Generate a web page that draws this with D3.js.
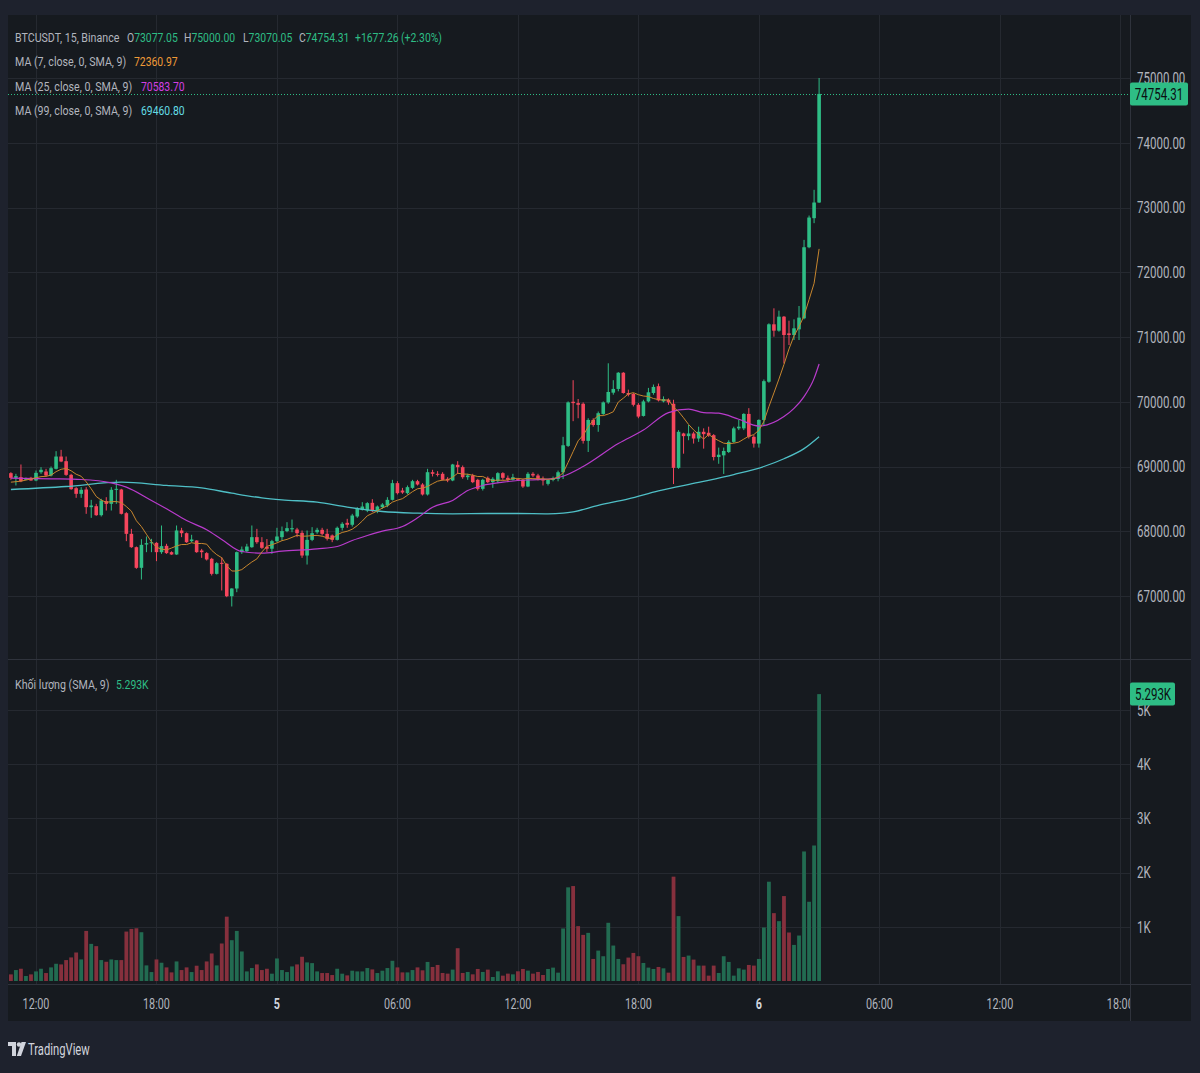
<!DOCTYPE html>
<html>
<head>
<meta charset="utf-8">
<script src="https://cdn.jsdelivr.net/npm/d3@7"></script>
<style>
  html, body { margin: 0; padding: 0; background: #1e222d; }
  svg { display: block; font-family: Roboto, "Noto Sans", sans-serif; }
</style>
</head>
<body>
<script>
// 15 minute bars, first one at 10:45 on the 4th
const firstBar = Date.UTC(2024, 10, 4, 10, 45);
const barMs = 15 * 60 * 1000;

const opens = [68897, 68825, 68835, 68794, 68825,
  68784, 68912, 68923, 68861, 68964, 69154, 69082, 68871, 68665, 68578,
  68645, 68372, 68387, 68248, 68465, 68423, 68640, 68645, 68279, 67960,
  67754, 67435, 67795, 67816, 67821, 67677, 67775, 67677, 67641, 68012,
  67970, 67847, 67857, 67703, 67662, 67574, 67342, 67512, 67497, 66997,
  67116, 67677, 67692, 67754, 67909, 67831, 67760, 67730, 67847, 67909,
  68002, 68030, 68027, 67975, 67625, 67867, 67985, 68022, 67960, 67935,
  67867, 68053, 68130, 68100, 68228, 68330, 68320, 68439, 68310, 68372,
  68398, 68485, 68743, 68629, 68588, 68670, 68773, 68722, 68568, 68912,
  68887, 68887, 68810, 68784, 69026, 68990, 68835, 68861, 68794, 68655,
  68825, 68758, 68773, 68897, 68825, 68794, 68805, 68794, 68691, 68887,
  68861, 68810, 68732, 68792, 68807, 68911, 69318, 70000, 69979, 69969,
  69396, 69719, 69641, 69812, 69990, 70140, 70198, 70448, 70135, 70120,
  69953, 69781, 70005, 70135, 70240, 70005, 70031, 69969, 68979, 69510,
  69469, 69510, 69432, 69536, 69521, 69484, 69146, 69172, 69224, 69380,
  69589, 69589, 69812, 69458, 69354, 69719, 70309, 71196, 71098, 71314,
  71056, 71031, 71118, 71288, 72386, 72835, 73077.05];

const highs = [68912, 68887, 69031, 68830, 68840,
  68938, 68990, 68964, 69000, 69237, 69257, 69154, 68887, 68681, 68681,
  68681, 68485, 68423, 68501, 68526, 68681, 68794, 68655, 68295, 68037,
  67764, 67878, 67919, 67883, 67831, 68089, 67806, 67690, 68089, 68053,
  67981, 67945, 67860, 67728, 67677, 67589, 67523, 67600, 67507, 67120,
  67687, 67764, 67806, 68089, 68037, 67909, 67880, 67867, 68053, 68073,
  68140, 68181, 68053, 68012, 68012, 68063, 68053, 68053, 68037, 67950,
  68073, 68140, 68192, 68269, 68372, 68449, 68449, 68495, 68398, 68434,
  68526, 68794, 68773, 68670, 68707, 68794, 68794, 68743, 68964, 68949,
  68928, 68912, 68835, 69041, 69082, 69015, 68887, 68887, 68810, 68810,
  68846, 68835, 68912, 68912, 68861, 68887, 68815, 68810, 68912, 68912,
  68887, 68846, 68800, 68844, 68937, 69458, 70005, 70333, 70042, 69990,
  69745, 69745, 69849, 70005, 70594, 70333, 70458, 70458, 70187, 70135,
  69979, 70031, 70214, 70266, 70281, 70083, 70050, 70031, 69562, 69521,
  69641, 69536, 69615, 69589, 69615, 69500, 69292, 69292, 69406, 69615,
  69719, 69823, 69901, 69484, 69729, 70344, 71211, 71443, 71407, 71324,
  71252, 71273, 71479, 72500, 72876, 73273, 75000];

const lows = [68794, 68707, 68758, 68790, 68780,
  68773, 68887, 68846, 68846, 68954, 69067, 68856, 68640, 68516, 68516,
  68269, 68207, 68238, 68228, 68320, 68320, 68423, 68259, 67847, 67744,
  67420, 67255, 67677, 67677, 67538, 67651, 67651, 67636, 67636, 67909,
  67821, 67831, 67667, 67589, 67548, 67317, 67332, 67085, 66982, 66838,
  67059, 67651, 67677, 67744, 67806, 67728, 67680, 67651, 67831, 67857,
  67985, 67985, 67909, 67589, 67486, 67847, 67960, 67935, 67857, 67831,
  67857, 68012, 68053, 68073, 68207, 68320, 68295, 68295, 68279, 68346,
  68372, 68475, 68568, 68578, 68568, 68655, 68707, 68552, 68552, 68846,
  68846, 68784, 68758, 68773, 68887, 68810, 68794, 68743, 68629, 68629,
  68743, 68670, 68743, 68794, 68758, 68784, 68780, 68670, 68681, 68835,
  68784, 68707, 68707, 68771, 68771, 68807, 69302, 69700, 69745, 69354,
  69224, 69615, 69536, 69797, 69969, 70109, 70161, 70125, 70083, 69927,
  69745, 69771, 69990, 70109, 70005, 69990, 69953, 68729, 68964, 69198,
  69406, 69354, 69380, 69276, 69458, 69094, 69042, 68885, 69208, 69365,
  69562, 69562, 69432, 69292, 69292, 69625, 70293, 71005, 71082, 70592,
  70876, 70953, 70953, 71273, 72371, 72758, 73070.05];

const closes = [68825, 68851, 68773, 68820, 68784,
  68902, 68949, 68861, 68974, 69154, 69077, 68871, 68650, 68578, 68640,
  68372, 68398, 68248, 68475, 68423, 68640, 68655, 68269, 67960, 67754,
  67435, 67790, 67816, 67831, 67677, 67770, 67662, 67641, 68012, 67970,
  67831, 67873, 67677, 67677, 67564, 67342, 67507, 67497, 66997, 67116,
  67677, 67718, 67764, 67909, 67831, 67744, 67730, 67847, 67919, 68002,
  68048, 68048, 67970, 67625, 67867, 67970, 68022, 67960, 67883, 67867,
  68053, 68115, 68100, 68243, 68346, 68382, 68434, 68310, 68382, 68413,
  68485, 68743, 68588, 68598, 68681, 68773, 68722, 68568, 68912, 68887,
  68871, 68794, 68784, 69031, 68990, 68835, 68861, 68758, 68655, 68794,
  68758, 68810, 68897, 68825, 68794, 68835, 68794, 68691, 68887, 68861,
  68810, 68784, 68794, 68823, 68911, 69328, 69990, 69979, 69953, 69396,
  69719, 69641, 69823, 69990, 70151, 70198, 70448, 70135, 70109, 69953,
  69771, 70005, 70146, 70229, 70021, 70042, 69990, 68979, 69536, 69469,
  69510, 69432, 69536, 69500, 69484, 69146, 69182, 69240, 69380, 69589,
  69615, 69812, 69458, 69354, 69719, 70318, 71196, 71098, 71314, 71031,
  71031, 71134.43, 71299, 72386, 72845, 73077.05, 74754.31];

const volumes = [122, 202, 226, 92, 122,
  177, 226, 147, 251, 318, 306, 386, 435, 526, 398,
  924, 685, 643, 386, 355, 398, 386, 386, 912, 961,
  973, 900, 288, 165, 398, 337, 251, 159, 361, 202,
  251, 165, 282, 202, 361, 508, 288, 692, 1187, 753,
  924, 545, 177, 239, 306, 202, 226, 135, 416, 202,
  165, 269, 306, 447, 343, 330, 177, 147, 147, 110,
  226, 135, 104, 190, 177, 177, 239, 214, 147, 190,
  239, 373, 251, 159, 159, 202, 251, 197, 352, 259,
  296, 148, 136, 210, 605, 148, 167, 123, 222, 167,
  210, 74, 179, 99, 136, 123, 179, 222, 191, 136,
  167, 111, 222, 247, 154, 969, 1728, 1752, 1012, 851,
  888, 407, 561, 457, 1074, 654, 407, 309, 432, 518,
  457, 333, 247, 222, 259, 234, 154, 1925, 1197, 444,
  469, 395, 284, 284, 99, 284, 148, 457, 352, 99,
  234, 210, 296, 284, 407, 987, 1832, 1252, 1104, 1567,
  895, 666, 839, 2390, 1462, 2500, 5293];

// moving averages (bar position, value)
const ma7HeadPos = [0, 2];
const ma7HeadVal = [68758, 68773];
const ma25Pos = [0, 8, 14, 20, 23, 28, 31, 35, 39, 42, 46, 50, 54, 61, 65, 68, 71, 74, 78, 81,
  84, 88, 91, 94, 98, 101, 104, 107, 110, 114, 121, 126, 131, 135, 138, 141, 145, 149, 154, 156,
  158, 160, 161];
const ma25Val = [68820, 68810, 68799, 68748, 68681, 68475, 68346, 68166, 68022, 67873, 67687, 67662,
  67692, 67728, 67764, 67857, 67934, 68001, 68073, 68207, 68372, 68475, 68629, 68707, 68758, 68784,
  68794, 68804, 68850, 69000, 69354, 69562, 69833, 69885, 69833, 69823, 69729, 69625, 69771, 69897,
  70080, 70361, 70583.70];
const ma99Pos = [0, 11, 22, 31, 38, 44, 50, 54, 61, 67, 74, 81, 88, 95, 101, 107, 110, 112, 117,
  123, 129, 137, 144, 150, 154, 158, 161];
const ma99Val = [68645, 68691, 68758, 68707, 68670, 68588, 68516, 68485, 68449, 68372, 68305, 68279,
  68269, 68274, 68274, 68269, 68279, 68300, 68400, 68500, 68625, 68755, 68875, 69000, 69120, 69276,
  69460.80];

const timeTicks = ["2024-11-04T12:00Z", "2024-11-04T18:00Z", "2024-11-05T00:00Z", "2024-11-05T06:00Z",
  "2024-11-05T12:00Z", "2024-11-05T18:00Z", "2024-11-06T00:00Z", "2024-11-06T06:00Z",
  "2024-11-06T12:00Z", "2024-11-06T18:00Z"];
const priceTicks = [67000, 68000, 69000, 70000, 71000, 72000, 73000, 74000, 75000];
const volumeTicks = [1000, 2000, 3000, 4000, 5000];

const width = 1200;
const height = 1073;
const plot = { left: 8, right: 1130, top: 15, bottom: 1021, edge: 1191 };
const pricePane = { top: 15, bottom: 659 };
const volPane = { top: 660, bottom: 984 };

const green = "#2ebd85";
const red = "#f6465d";
const greenVol = "#226b51";
const redVol = "#86303d";
const gridColor = "#252930";
const lineColor = "#2f333c";
const textColor = "#b2b5be";

const bars = opens.map((o, i) => ({
  t: new Date(firstBar + i * barMs),
  o, h: highs[i], l: lows[i], c: closes[i], v: volumes[i]
}));
const barTime = i => new Date(firstBar + i * barMs);

const x = d3.scaleUtc()
  .domain([new Date("2024-11-04T12:00Z"), new Date("2024-11-06T18:00Z")])
  .range([36, 1120.3]);
const y = d3.scaleLinear().domain([67000, 75000]).range([596, 78]);
const vy = d3.scaleLinear().domain([0, 5000]).range([981, 710]);

const svg = d3.select("body")
  .append("svg")
  .attr("width", width)
  .attr("height", height);

svg.append("rect").attr("width", width).attr("height", height).attr("fill", "#1e222d");
svg.append("rect")
  .attr("x", plot.left).attr("y", plot.top)
  .attr("width", plot.edge - plot.left).attr("height", plot.bottom - plot.top)
  .attr("fill", "#161a1f");

const defs = svg.append("defs");
defs.append("clipPath").attr("id", "price-clip").append("rect")
  .attr("x", plot.left).attr("y", pricePane.top)
  .attr("width", plot.right - plot.left).attr("height", pricePane.bottom - pricePane.top);
defs.append("clipPath").attr("id", "vol-clip").append("rect")
  .attr("x", plot.left).attr("y", volPane.top)
  .attr("width", plot.right - plot.left).attr("height", volPane.bottom - volPane.top);
defs.append("clipPath").attr("id", "time-clip").append("rect")
  .attr("x", plot.left).attr("y", volPane.bottom)
  .attr("width", plot.right - plot.left).attr("height", plot.bottom - volPane.bottom);

// squeezed text, the reference renders narrow glyphs
function label(g, px, py, parts, opts = {}) {
  const t = g.append("text")
    .attr("transform", `translate(${px},${py}) scale(${opts.sx || 0.8},1)`)
    .attr("dy", "0.36em")
    .attr("font-size", opts.size || 13)
    .attr("font-weight", opts.weight || 400)
    .attr("text-anchor", opts.anchor || "start");
  (Array.isArray(parts) ? parts : [[parts, opts.color || textColor]]).forEach(([s, col]) => {
    t.append("tspan").attr("fill", col).text(s);
  });
  return t;
}

// grid lines
const grid = svg.append("g").attr("stroke", gridColor).attr("stroke-width", 1);
grid.selectAll("line.h")
  .data(priceTicks)
  .enter().append("line")
    .attr("x1", plot.left).attr("x2", plot.right)
    .attr("y1", d => Math.round(y(d)) + 0.5).attr("y2", d => Math.round(y(d)) + 0.5);
grid.selectAll("line.v")
  .data(volumeTicks)
  .enter().append("line")
    .attr("x1", plot.left).attr("x2", plot.right)
    .attr("y1", d => Math.round(vy(d)) + 0.5).attr("y2", d => Math.round(vy(d)) + 0.5);
grid.selectAll("line.t")
  .data(timeTicks)
  .enter().append("line")
    .attr("x1", d => Math.round(x(new Date(d))) + 0.5)
    .attr("x2", d => Math.round(x(new Date(d))) + 0.5)
    .attr("y1", plot.top).attr("y2", volPane.bottom);

// pane borders
const borders = svg.append("g").attr("stroke", lineColor).attr("stroke-width", 1);
borders.append("line").attr("x1", plot.left).attr("x2", plot.edge).attr("y1", 659.5).attr("y2", 659.5);
borders.append("line").attr("x1", plot.left).attr("x2", plot.edge).attr("y1", 984.5).attr("y2", 984.5);
borders.append("line").attr("x1", plot.right + 0.5).attr("x2", plot.right + 0.5)
  .attr("y1", plot.top).attr("y2", plot.bottom);

// volume bars
svg.append("g").attr("clip-path", "url(#vol-clip)")
  .selectAll("rect.volume")
  .data(bars)
  .enter().append("rect")
    .attr("x", d => x(d.t) - 1.9)
    .attr("y", d => vy(d.v))
    .attr("width", 3.8)
    .attr("height", d => vy(0) - vy(d.v))
    .attr("fill", d => d.c >= d.o ? greenVol : redVol);

// candles
const candles = svg.append("g").attr("clip-path", "url(#price-clip)");
candles.selectAll("line.wick")
  .data(bars)
  .enter().append("line")
    .attr("x1", d => x(d.t)).attr("x2", d => x(d.t))
    .attr("y1", d => y(d.h)).attr("y2", d => y(d.l))
    .attr("stroke", d => d.c >= d.o ? green : red)
    .attr("stroke-width", 1);
candles.selectAll("rect.body")
  .data(bars)
  .enter().append("rect")
    .attr("x", d => x(d.t) - 1.8)
    .attr("y", d => y(Math.max(d.o, d.c)))
    .attr("width", 3.6)
    .attr("height", d => Math.max(1, Math.abs(y(d.o) - y(d.c))))
    .attr("fill", d => d.c >= d.o ? green : red);

// moving averages
const ma7 = closes.map((c, i) => i < 6 ? null : d3.mean(closes.slice(i - 6, i + 1)));
const ma7Pts = ma7HeadPos.map((p, i) => [p, ma7HeadVal[i]])
  .concat(ma7.map((v, i) => [i, v]).filter(d => d[1] !== null));
const ma25Pts = ma25Pos.map((p, i) => [p, ma25Val[i]]);
const ma99Pts = ma99Pos.map((p, i) => [p, ma99Val[i]]);

const maLine = d3.line()
  .x(d => x(barTime(d[0])))
  .y(d => y(d[1]));
const smoothLine = d3.line()
  .x(d => x(barTime(d[0])))
  .y(d => y(d[1]))
  .curve(d3.curveMonotoneX);

const maG = svg.append("g").attr("clip-path", "url(#price-clip)").attr("fill", "none");
maG.append("path").attr("d", smoothLine(ma99Pts)).attr("stroke", "#4fbfc6").attr("stroke-width", 1.3);
maG.append("path").attr("d", smoothLine(ma25Pts)).attr("stroke", "#b93bcc").attr("stroke-width", 1.2);
maG.append("path").attr("d", maLine(ma7Pts)).attr("stroke", "#c7862e").attr("stroke-width", 1);

// last price line
const last = bars[bars.length - 1];
svg.append("line")
  .attr("x1", plot.left).attr("x2", plot.right)
  .attr("y1", Math.round(y(last.c)) + 0.5).attr("y2", Math.round(y(last.c)) + 0.5)
  .attr("stroke", green).attr("stroke-width", 1).attr("stroke-dasharray", "1,2");

// price axis
const axisG = svg.append("g");
priceTicks.forEach(p => label(axisG, 1137, y(p), d3.format(".2f")(p), { size: 16, sx: 0.72 }));
volumeTicks.forEach(v => label(axisG, 1137, vy(v), `${v / 1000}K`, { size: 16, sx: 0.72 }));

axisG.append("rect")
  .attr("x", 1130).attr("y", y(last.c) - 11.5).attr("width", 58).attr("height", 23).attr("rx", 2)
  .attr("fill", green);
label(axisG, 1159, y(last.c), d3.format(".2f")(last.c), { size: 16, sx: 0.72, anchor: "middle", color: "#0b0e11" });
axisG.append("rect")
  .attr("x", 1130).attr("y", vy(last.v) - 11.5).attr("width", 45).attr("height", 23).attr("rx", 2)
  .attr("fill", green);
label(axisG, 1153, vy(last.v), `${d3.format(".3f")(last.v / 1000)}K`, { size: 16, sx: 0.72, anchor: "middle", color: "#0b0e11" });

// time axis
const timeG = svg.append("g").attr("clip-path", "url(#time-clip)");
timeTicks.forEach(s => {
  const d = new Date(s);
  const isDay = d.getUTCHours() === 0;
  label(timeG, x(d), 1004, isDay ? d3.utcFormat("%-d")(d) : d3.utcFormat("%H:%M")(d), {
    size: 15, sx: 0.72, anchor: "middle",
    weight: isDay ? 700 : 400, color: isDay ? "#d1d4dc" : textColor
  });
});

// legends
const fmt = d3.format(".2f");
const prevClose = closes[closes.length - 2];
const change = last.c - prevClose;
const legend = svg.append("g");
label(legend, 15, 37, "BTCUSDT, 15, Binance", { sx: 0.82 });
label(legend, 127, 37, [["O", textColor], [fmt(last.o), green]], { sx: 0.8 });
label(legend, 184, 37, [["H", textColor], [fmt(last.h), green]], { sx: 0.8 });
label(legend, 243, 37, [["L", textColor], [fmt(last.l), green]], { sx: 0.8 });
label(legend, 299, 37, [["C", textColor], [fmt(last.c), green]], { sx: 0.8 });
label(legend, 355, 37, `+${fmt(change)}`, { sx: 0.8, color: green });
label(legend, 401, 37, `(+${fmt(change / prevClose * 100)}%)`, { sx: 0.8, color: green });

label(legend, 15, 61, "MA (7, close, 0, SMA, 9)", { sx: 0.82 });
label(legend, 134, 61, fmt(ma7[ma7.length - 1]), { sx: 0.8, color: "#f09a37" });
label(legend, 15, 86, "MA (25, close, 0, SMA, 9)", { sx: 0.82 });
label(legend, 141, 86, fmt(ma25Val[ma25Val.length - 1]), { sx: 0.8, color: "#d23fe2" });
label(legend, 15, 110, "MA (99, close, 0, SMA, 9)", { sx: 0.82 });
label(legend, 141, 110, fmt(ma99Val[ma99Val.length - 1]), { sx: 0.8, color: "#63dce4" });

label(legend, 15, 684, "Khối lượng (SMA, 9)", { sx: 0.82 });
label(legend, 116, 684, `${d3.format(".3f")(last.v / 1000)}K`, { sx: 0.8, color: green });

// TradingView mark
const logo = svg.append("g").attr("fill", "#d1d4dc");
logo.append("rect").attr("x", 8).attr("y", 1042).attr("width", 8).attr("height", 4);
logo.append("rect").attr("x", 12).attr("y", 1042).attr("width", 4).attr("height", 14);
logo.append("circle").attr("cx", 19).attr("cy", 1044.5).attr("r", 2.2);
logo.append("path").attr("d", "M21.5,1042 L26,1042 L21,1056 L16.8,1056 Z");
label(logo, 28, 1049, "TradingView", { size: 17, sx: 0.66, color: "#d1d4dc" });
</script>
</body>
</html>
